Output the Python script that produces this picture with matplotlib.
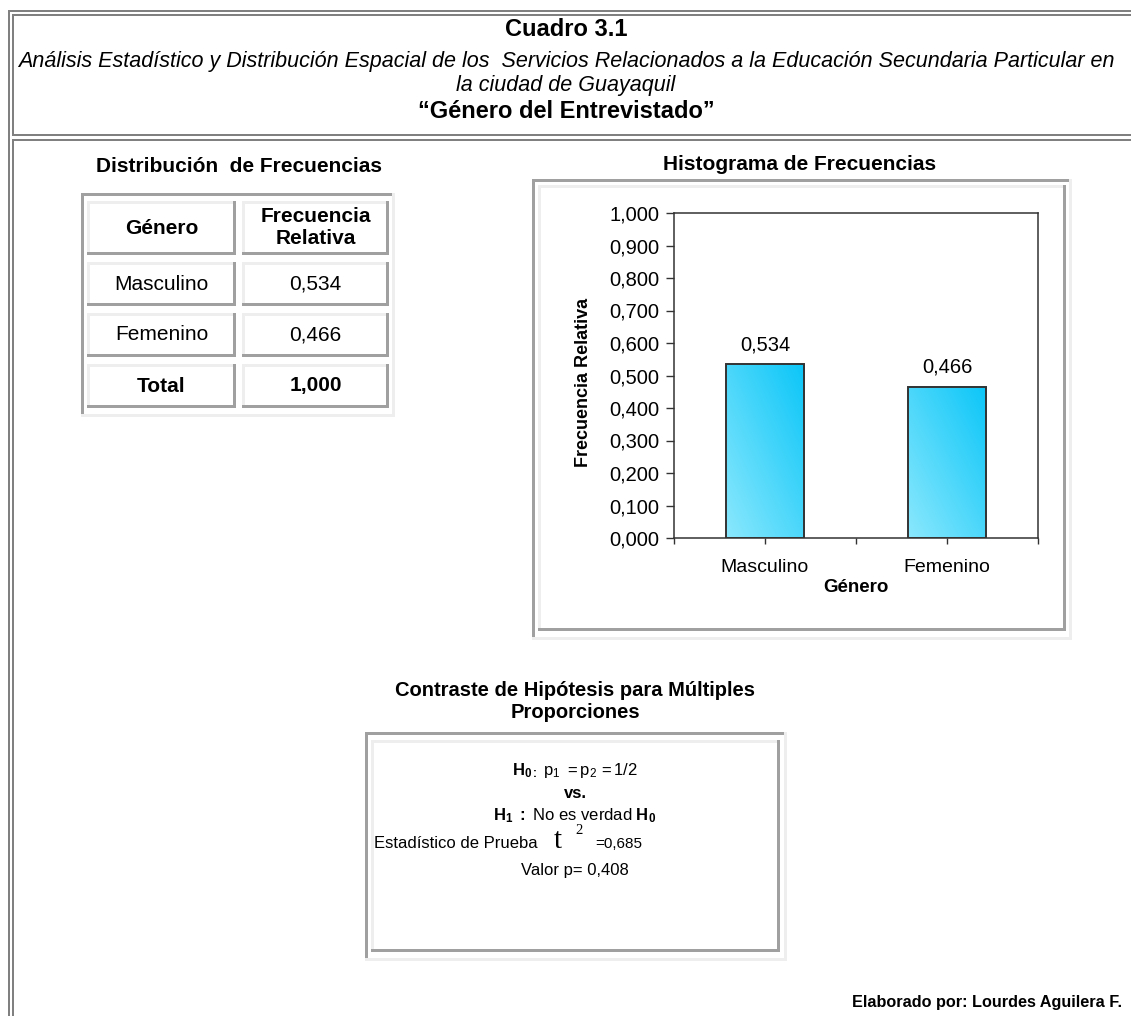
import matplotlib
matplotlib.use('Agg')
import matplotlib.pyplot as plt
import numpy as np
from matplotlib.colors import LinearSegmentedColormap
from matplotlib.patches import Rectangle

W, H = 1131, 1016

generos = ['Masculino', 'Femenino']
frec_rel = [0.534, 0.466]
frec_total = 1.000
y_ticks = [0.0, 0.1, 0.2, 0.3, 0.4, 0.5, 0.6, 0.7, 0.8, 0.9, 1.0]
estadistico_t2 = 0.685
valor_p = 0.408

plt.rcParams['font.family'] = ['Liberation Sans', 'DejaVu Sans']
plt.rcParams['mathtext.fontset'] = 'custom'
plt.rcParams['mathtext.rm'] = 'Liberation Sans'
plt.rcParams['mathtext.it'] = 'Liberation Sans:italic'
plt.rcParams['mathtext.bf'] = 'Liberation Sans:bold'

OSCURO = '#a0a0a0'
CLARO = '#eeeeee'
MARCO = '#808080'


def coma(v):
    return f'{v:.3f}'.replace('.', ',')


fig = plt.figure(figsize=(W / 100, H / 100), dpi=100)
bg = fig.add_axes([0, 0, 1, 1])
bg.set_xlim(0, W)
bg.set_ylim(H, 0)
bg.axis('off')


def caja(x0, y0, x1, y1, color):
    bg.add_patch(Rectangle((x0, y0), x1 - x0, y1 - y0, facecolor=color,
                           edgecolor='none', zorder=1))


def bisel(x0, y0, x1, y1, arriba, abajo, g=3):
    # borde estilo tabla html: arriba/izquierda un color, abajo/derecha otro
    caja(x0, y0, x1, y0 + g, arriba)
    caja(x0, y0, x0 + g, y1, arriba)
    caja(x0, y1 - g, x1, y1, abajo)
    caja(x1 - g, y0, x1, y1, abajo)


def texto(x, y, s, size, ha='center', **kw):
    bg.text(x, y, s, fontsize=size, ha=ha, va='center', **kw)


# marco doble de la pagina
caja(8, 10, W, 12, MARCO)
caja(8, 10, 10, H, MARCO)
caja(12, 14, W, 16, MARCO)
caja(12, 14, 14, 136, MARCO)
caja(12, 134, W, 136, MARCO)
caja(12, 139, W, 141, MARCO)
caja(12, 139, 14, H, MARCO)

# encabezado
texto(566, 30, 'Cuadro 3.1', 17, fontweight='bold')
texto(566, 62, 'Análisis Estadístico y Distribución Espacial de los  Servicios '
      'Relacionados a la Educación Secundaria Particular en', 15.5, style='italic')
texto(566, 86, 'la ciudad de Guayaquil', 15.5, style='italic')
texto(566, 112, '\u201cGénero del Entrevistado\u201d', 17, fontweight='bold')

# tabla de frecuencias
texto(239, 167, 'Distribución  de Frecuencias', 15, fontweight='bold')
bisel(81, 193, 395, 417, OSCURO, CLARO)
cols = [(87, 236), (242, 389)]
filas = [(201, 255), (262, 306), (313, 357), (364, 408)]
for y0, y1 in filas:
    for x0, x1 in cols:
        bisel(x0, y0, x1, y1, CLARO, OSCURO)

cx = [(a + b) / 2 for a, b in cols]
cy = [(a + b) / 2 for a, b in filas]
texto(cx[0], cy[0], 'Género', 15, fontweight='bold')
texto(cx[1], 217, 'Frecuencia', 15, fontweight='bold')
texto(cx[1], 239, 'Relativa', 15, fontweight='bold')
for i, (g, f) in enumerate(zip(generos, frec_rel)):
    texto(cx[0], cy[i + 1], g, 15)
    texto(cx[1], cy[i + 1], coma(f), 15)
texto(cx[0], cy[3], 'Total', 15, fontweight='bold')
texto(cx[1], cy[3], coma(frec_total), 15, fontweight='bold')

# histograma
texto(800, 165, 'Histograma de Frecuencias', 15, fontweight='bold')
bisel(532, 179, 1072, 640, OSCURO, CLARO)
bisel(538, 185, 1066, 631, CLARO, OSCURO)

izq, der, arr, aba = 674, 1038, 213, 538
ax = fig.add_axes([izq / W, 1 - aba / H, (der - izq) / W, (aba - arr) / H])
x = np.arange(len(generos))
barras = ax.bar(x, frec_rel, width=0.43, facecolor='none',
                edgecolor='#333333', linewidth=1.4, zorder=3)
celeste = LinearSegmentedColormap.from_list('celeste', ['#8ae8fd', '#0cc6f8'])
gx, gy = np.meshgrid(np.linspace(0, 1, 64), np.linspace(0, 1, 64))
for b in barras:
    ax.imshow((gx + gy) / 2, cmap=celeste, origin='lower', aspect='auto', zorder=2,
              extent=(b.get_x(), b.get_x() + b.get_width(), 0, b.get_height()))
for xi, v in zip(x, frec_rel):
    ax.annotate(coma(v), (xi, v), xytext=(0, 7), textcoords='offset points',
                ha='center', va='bottom', fontsize=14.5)

ax.set_xlim(-0.5, 1.5)
ax.set_ylim(0, 1)
ax.set_yticks(y_ticks)
ax.set_yticklabels([coma(v) for v in y_ticks])
ax.set_xticks(x)
ax.set_xticklabels(generos)
ax.set_xticks([-0.5, 0.5, 1.5], minor=True)
ax.tick_params(axis='y', direction='out', length=5.5, width=1, pad=5,
               labelsize=14.5, color='#333333')
ax.tick_params(axis='x', which='both', direction='out', length=4, width=1,
               pad=11, labelsize=14, color='#333333')
for s in ax.spines.values():
    s.set_color('#333333')
    s.set_linewidth(1.1)

texto(583, 382, 'Frecuencia Relativa', 13, fontweight='bold', rotation=90)
texto(856, 588, 'Género', 13.5, fontweight='bold')

# contraste de hipotesis
texto(575, 690, 'Contraste de Hipótesis para Múltiples', 14.5, fontweight='bold')
texto(575, 712, 'Proporciones', 14.5, fontweight='bold')
bisel(365, 732, 787, 961, OSCURO, CLARO)
bisel(371, 740, 780, 952, CLARO, OSCURO)

texto(575, 770, r'$\mathbf{H}_{\mathbf{0:}}\ \mathrm{p}_{1}\ \mathrm{=p}_{2}\,\mathrm{=1/2}$', 12)
texto(575, 793, 'vs.', 12, fontweight='bold')
texto(575, 816, r'$\mathbf{H}_{\mathbf{1}}\ \mathbf{:}$ No es verdad $\mathbf{H}_{\mathbf{0}}$', 12)
texto(538, 844, 'Estadístico de Prueba', 12, ha='right')
texto(558, 841, 't', 21, family='Liberation Serif')
texto(575, 831, '2', 10.5, ha='left', family='Liberation Serif')
texto(595, 844, '=' + coma(estadistico_t2), 11, ha='left')
texto(575, 871, 'Valor p= ' + coma(valor_p), 12)

texto(1122, 1003, 'Elaborado por: Lourdes Aguilera F.', 11.7, ha='right', fontweight='bold')

fig.savefig('out.png', dpi=100)
